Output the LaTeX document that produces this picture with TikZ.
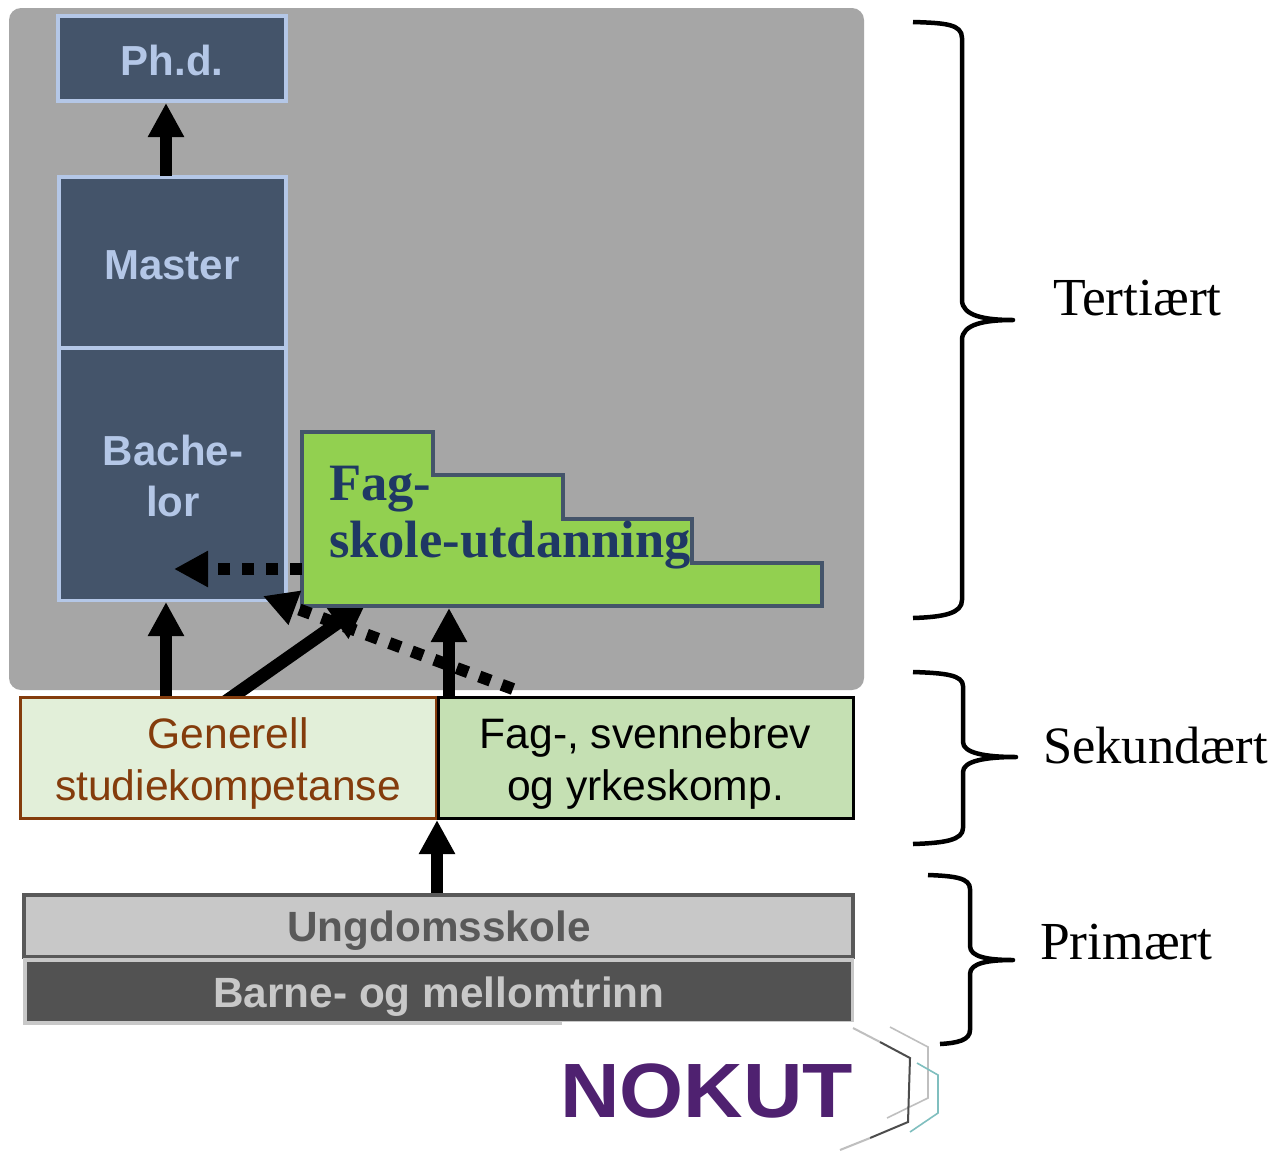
\documentclass[tikz,border=0pt]{standalone}
\usepackage{fontspec}
\setmainfont{Liberation Sans}
\newfontfamily\serifc{Liberation Serif}
\usetikzlibrary{arrows.meta,calc}
\definecolor{panel}{HTML}{A6A6A6}
\definecolor{navy}{HTML}{44546A}
\definecolor{pale}{HTML}{B4C7E7}
\definecolor{fagg}{HTML}{92D050}
\definecolor{fagt}{HTML}{1F3864}
\definecolor{gen}{HTML}{E2EFD9}
\definecolor{brn}{HTML}{843C0C}
\definecolor{yrk}{HTML}{C5E0B3}
\definecolor{lgrey}{HTML}{C8C8C8}
\definecolor{dgrey}{HTML}{525252}
\definecolor{mgrey}{HTML}{595959}
\definecolor{nok}{HTML}{4F2170}
\tikzset{
  x=1pt,y=-1pt,
  uni/.style={draw=pale,line width=3.5pt,fill=navy,outer sep=0pt,inner sep=0pt},
  unitext/.style={text=pale,inner sep=0pt,outer sep=0pt,align=center,font=\fontsize{42}{51}\selectfont\bfseries},
  lvl/.style={line width=3pt,outer sep=0pt,inner sep=0pt},
  lvltext/.style={inner sep=0pt,outer sep=0pt,align=center,font=\fontsize{42.6}{52}\selectfont},
  schooltext/.style={inner sep=0pt,outer sep=0pt,font=\fontsize{42.3}{50}\selectfont\bfseries},
  bigarrow/.style={line width=12pt,-{Triangle[width=34pt,length=34pt]}},
  slant/.style={line width=13pt,-{Triangle[width=36pt,length=35pt]}},
  dotarrow/.style={line width=12pt,dash pattern=on 12pt off 12pt,-{Triangle[width=34pt,length=34pt]}},
  bracket/.style={line width=4.5pt,line join=round},
  lab/.style={anchor=base west,inner sep=0pt,outer sep=0pt,font=\serifc\fontsize{53.5}{56}\selectfont},
  hexa/.style={line width=1.6pt},
}
\begin{document}
\begin{tikzpicture}
\useasboundingbox (0,0) rectangle (1273,1151);
\fill[white] (0,0) rectangle (1273,1151);
% panel
\fill[panel,rounded corners=12pt] (9,8) rectangle (864,690);
% university boxes
\node[uni,minimum width=228pt,minimum height=85pt] (phd) at (172,58.5) {};
\node[unitext] (phdt) at (172,60) {Ph.d.};
\node[uni,minimum width=227pt,minimum height=171pt] (master) at (172.5,262.5) {};
\node[unitext] (mastert) at (172,265) {Master};
\node[uni,minimum width=227pt,minimum height=252pt] (bach) at (172.5,474.5) {};
\node[unitext] (bacht) at (173,476) {Bache-\\lor};
% slanted arrow passes under the Fagskole block
\coordinate (a5s) at (225,702); \coordinate (a5e) at (366,603);
\draw[slant] (a5s) -- (a5e);
% fagskole
\draw[draw=navy,line width=3.5pt,fill=fagg] (302,432) -- (433,432) -- (433,475) -- (563,475) -- (563,519) -- (692,519) -- (692,563) -- (822,563) -- (822,606) -- (302,606) -- cycle;
\node[anchor=base west,inner sep=0pt,outer sep=0pt,align=left,text=fagt,font=\serifc\fontsize{52.5}{57}\selectfont\bfseries] (fag) at (329,557) {Fag-\\skole-utdanning};
% connector ends
\coordinate (a1s) at (166,176); \coordinate (a1e) at (166,103);
\coordinate (a2s) at (166,697); \coordinate (a2e) at (166,602);
\coordinate (a3s) at (449,697); \coordinate (a3e) at (449,608);
\coordinate (a4s) at (437,893); \coordinate (a4e) at (437,820);
\coordinate (d1s) at (302,569); \coordinate (d1e) at (174,569);
\coordinate (d2s) at (513,689); \coordinate (d2e) at (263,596);
\draw[bigarrow] (a1s) -- (a1e);
\draw[bigarrow] (a2s) -- (a2e);
\draw[bigarrow] (a3s) -- (a3e);
\draw[bigarrow] (a4s) -- (a4e);
\draw[dotarrow] (d1s) -- (d1e);
\draw[dotarrow] (d2s) -- (d2e);
% secondary
\node[lvl,draw=brn,fill=gen,minimum width=416pt,minimum height=121pt] (gsk) at (228,757.5) {};
\node[lvltext,text=brn] (gskt) at (228,763) {Generell\\studiekompetanse};
\node[lvl,draw=black,fill=yrk,minimum width=415pt,minimum height=121pt] (yrke) at (645.5,757.5) {};
\node[lvltext,text=black] (yrket) at (645.5,763) {Fag-, svennebrev\\og yrkeskomp.};
% primary
\node[lvl,draw=mgrey,line width=4pt,fill=lgrey,minimum width=829pt,minimum height=62pt] (ung) at (438.5,926) {};
\node[schooltext,text=mgrey] (ungt) at (439,931) {Ungdomsskole};
\fill[lgrey] (23,958) rectangle (854,1022);
\fill[lgrey] (23,1022) rectangle (562,1025);
\node[lvl,line width=0pt,fill=dgrey,minimum width=824pt,minimum height=59pt] (barn) at (439,991.5) {};
\node[schooltext,text=lgrey] (barnt) at (439,997) {Barne- og mellomtrinn};
% braces
\draw[bracket] (913,22) .. controls (945,23) and (962,24) .. (962,38) -- (962,300) .. controls (962,316) and (985,320) .. (1013,320) .. controls (985,320) and (962,324) .. (962,340) -- (962,600) .. controls (962,613) and (945,617) .. (913,618);
\draw[bracket] (913,672) .. controls (945,673) and (963,675) .. (963,686) -- (963,742) .. controls (963,753) and (985,757) .. (1016,757) .. controls (985,757) and (963,761) .. (963,772) -- (963,828) .. controls (963,840) and (945,843) .. (913,844);
\draw[bracket] (928,875) .. controls (955,876) and (970,878) .. (970,889) -- (970,946) .. controls (970,957) and (988,960) .. (1013,960) .. controls (988,960) and (970,963) .. (970,974) -- (970,1030) .. controls (970,1040) and (958,1043) .. (940,1044);
% labels
\node[lab] (tert) at (1053,315) {Tertiært};
\node[lab,font=\serifc\fontsize{52.5}{56}\selectfont] (sek) at (1043,763) {Sekundært};
\node[lab] (prim) at (1040,959) {Primært};
% logo
\node[anchor=base west,inner sep=0pt,outer sep=0pt,text=nok,font=\fontsize{77}{80}\selectfont\bfseries] (nokut) at (560,1117) {\scalebox{1.07}[1]{NOKUT}};
\draw[hexa,black!25] (890,1027) -- (928,1047) -- (928,1098) -- (887,1118);
\draw[hexa,teal!50] (917,1063) -- (938,1075) -- (938,1113) -- (910,1132);
\draw[line width=2pt,black!25] (853,1028) -- (880,1042);
\draw[line width=2pt,black!70] (880,1042) -- (910,1058) -- (908,1122) -- (870,1138);
\draw[line width=2pt,black!25] (870,1138) -- (840,1150);
\end{tikzpicture}
\end{document}
